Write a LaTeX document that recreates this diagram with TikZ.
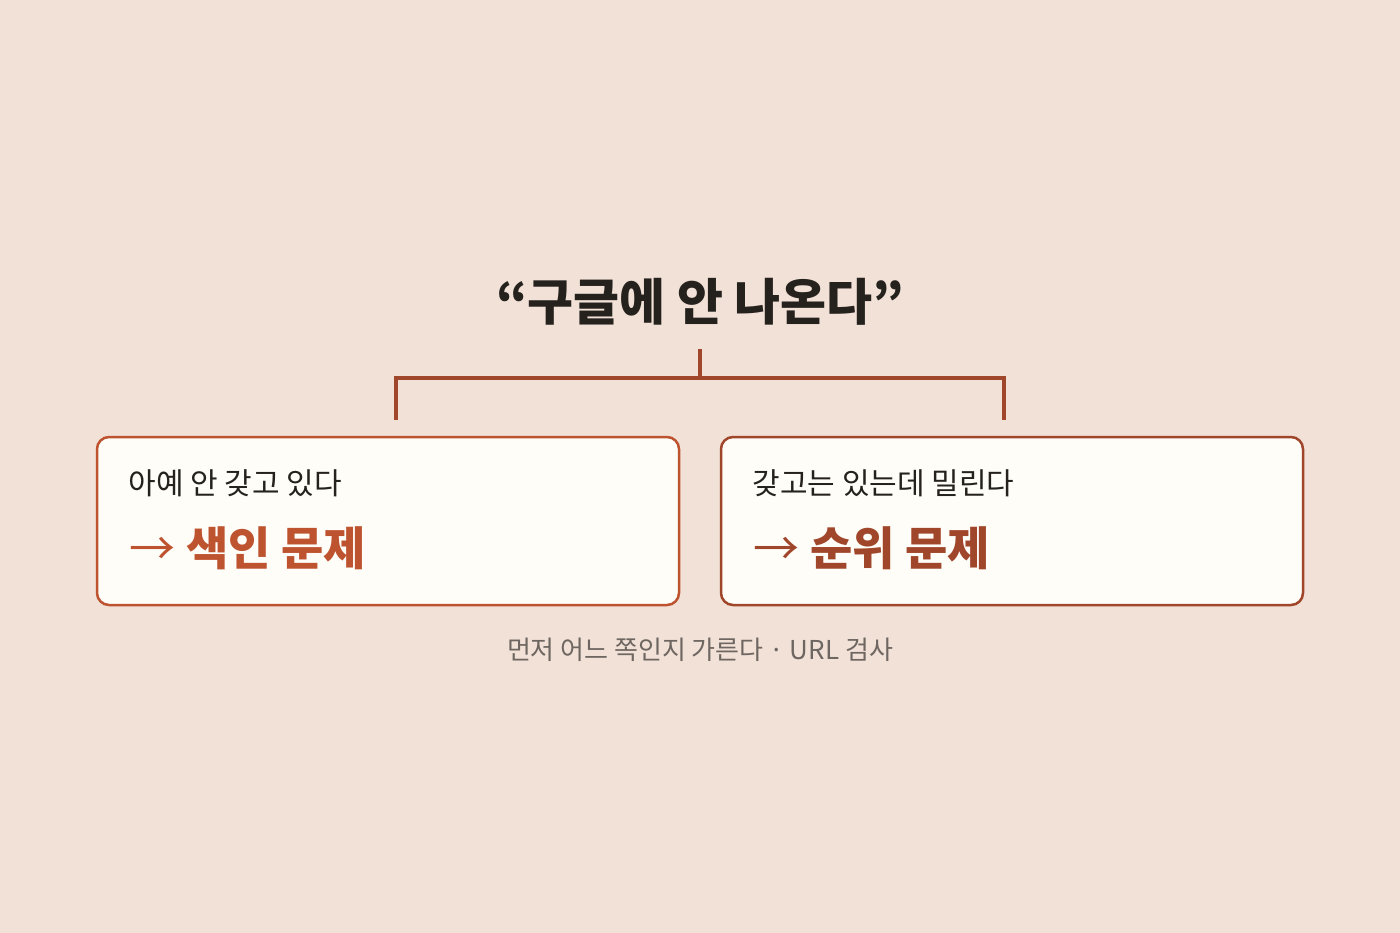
\documentclass[tikz,border=0pt]{standalone}
\usepackage{fontspec}
\setmainfont{Noto Sans CJK KR}
\usetikzlibrary{positioning}
\definecolor{paper}{HTML}{F2E1D7}
\definecolor{cardfill}{HTML}{FFFDF8}
\definecolor{rust}{HTML}{BE5330}
\definecolor{brick}{HTML}{A0462A}
\definecolor{ink}{HTML}{25211D}
\definecolor{muted}{HTML}{6E6761}

\tikzset{
	card/.style = {draw, line width = 2.5pt, rounded corners = 12pt, fill = cardfill,
		minimum width = 582pt, minimum height = 168pt},
	caseline/.style = {anchor = west, text = ink, font = \fontsize{30}{33}\selectfont},
	verdict/.style = {anchor = west, font = \fontsize{46}{50}\selectfont\bfseries},
	bracket/.style = {draw = brick, line width = 4pt}
}

\begin{document}
\begin{tikzpicture}[x = 1pt, y = -1pt]
	\fill[paper] (0,0) rectangle (1400,933);
	% question
	\node[text = ink, font = \fontsize{50}{54}\selectfont\bfseries] (question) at (700,302) {“구글에 안 나온다”};
	% two cases
	\node[card, draw = rust] (notindexed) at (388,521) {};
	\node[card, draw = brick] (lowrank) at (1012,521) {};
	\node[caseline] (notindexed-why) at (125,483) {아예 안 갖고 있다};
	\node[verdict, text = rust] (notindexed-what) at (126,548) {{\mdseries →} 색인 문제};
	\node[caseline] (lowrank-why) at (749,483) {갖고는 있는데 밀린다};
	\node[verdict, text = brick] (lowrank-what) at (750,548) {{\mdseries →} 순위 문제};
	% bracket
	\coordinate (stub) at (700,349);
	\coordinate (fork) at (700,378);
	\coordinate (leftend) at (396,420);
	\coordinate (rightend) at (1004,420);
	\draw[bracket] (stub) -- (fork);
	\draw[bracket] (leftend) |- (fork) -| (rightend);
	% hint
	\node[text = muted, font = \fontsize{26}{29}\selectfont] (hint) at (700,650) {먼저 어느 쪽인지 가른다 · URL 검사};
\end{tikzpicture}
\end{document}
